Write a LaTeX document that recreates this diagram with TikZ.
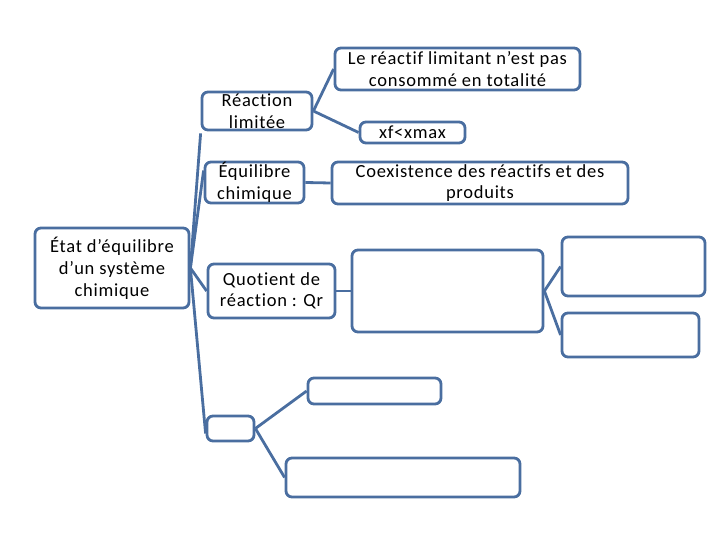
\documentclass[tikz,border=0pt]{standalone}
\usepackage{fontspec}
\setmainfont[Ligatures={NoCommon},LetterSpace=4]{Carlito}
\definecolor{edge}{RGB}{74,110,160}
\tikzset{
  box/.style={draw=edge, line width=2.8pt, rounded corners=6pt, fill=white, align=center, inner sep=0pt,
    font=\fontsize{18.5}{21.5}\selectfont, text=black},
  link/.style={draw=edge, line width=2.8pt}
}
\begin{document}
\begin{tikzpicture}[x=1pt,y=-1pt]
\useasboundingbox (0,0) rectangle (720,540);
\node[box, minimum width=154pt, minimum height=80pt, font=\fontsize{18.5}{22}\selectfont] (root) at (112,268) {État d’équilibre\\d’un système\\chimique};
\node[box, minimum width=110pt, minimum height=38pt] (rl) at (257,111) {Réaction\\limitée};
\node[box, minimum width=99pt, minimum height=41pt] (eq) at (254.5,182.5) {Équilibre\\chimique};
\node[box, minimum width=127pt, minimum height=54pt] (qr) at (271.5,291) {Quotient de\\réaction : Qr};
\node[box, minimum width=47pt, minimum height=25pt] (sm) at (230.5,428.5) {};
\node[box, minimum width=245pt, minimum height=42pt] (lr) at (457.5,69) {Le réactif limitant n’est pas\\consommé en totalité};
\node[box, minimum width=105pt, minimum height=21pt] (xf) at (412.5,132.5) {xf<xmax};
\node[box, minimum width=296pt, minimum height=42pt] (co) at (480,183) {Coexistence des réactifs et des\\produits};
\node[box, minimum width=191pt, minimum height=82pt] (big) at (447.5,291) {};
\node[box, minimum width=143pt, minimum height=59pt] (tr) at (633.5,266.5) {};
\node[box, minimum width=137pt, minimum height=44pt] (br) at (630.5,335) {};
\node[box, minimum width=133pt, minimum height=26pt] (e1) at (374.5,391) {};
\node[box, minimum width=234pt, minimum height=39pt] (e2) at (403,477.5) {};
\draw[link] (root.east) -- ([yshift=-2pt]rl.south west);
\draw[link] (root.east) -- ([yshift=12pt]eq.west);
\draw[link] (root.east) -- (qr.west);
\draw[link] (root.east) -- ([yshift=-5pt]sm.west);
\draw[link] (rl.east) -- (lr.west);
\draw[link] (rl.east) -- (xf.west);
\draw[link] (eq.east) -- (co.west);
\draw[link] (qr.east) -- (big.west);
\draw[link] (big.east) -- (tr.west);
\draw[link] (big.east) -- (br.west);
\draw[link] (sm.east) -- (e1.west);
\draw[link] (sm.east) -- (e2.west);
\end{tikzpicture}
\end{document}
